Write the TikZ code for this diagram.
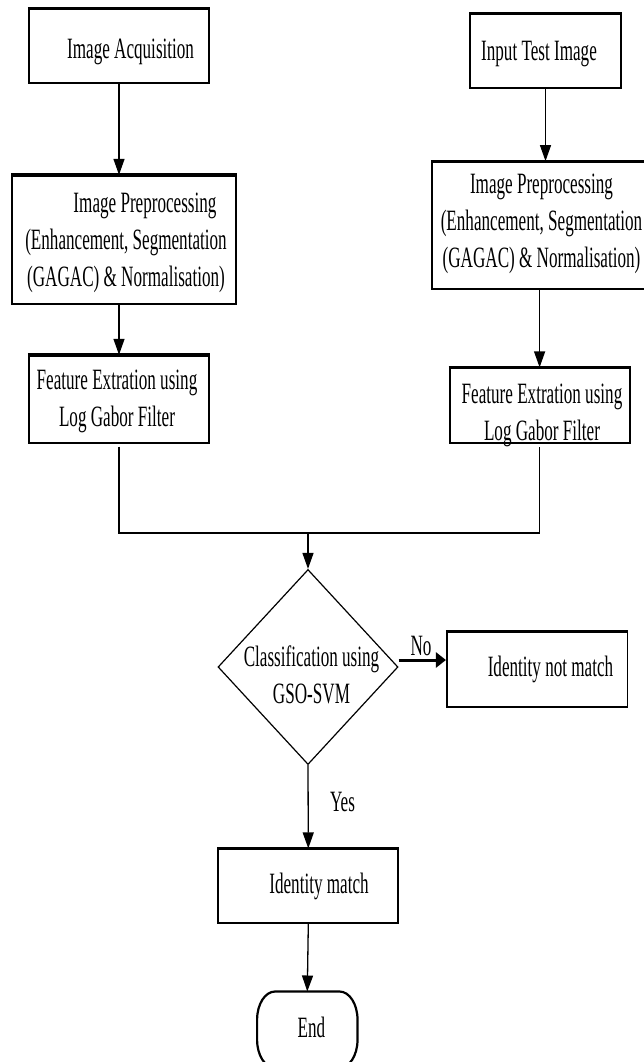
\documentclass[tikz,border=0pt]{standalone}
\usepackage{fontspec}
\setmainfont{Liberation Serif}[FakeStretch=0.58]
\usetikzlibrary{shapes.geometric,arrows.meta}
\begin{document}
\begin{tikzpicture}[x=1pt,y=-1pt,
  box/.style={draw, line width=1.8pt, inner sep=0pt,
    append after command={(\tikzlastnode.north west) edge[line width=3pt] (\tikzlastnode.north east)}},
  txt/.style={font=\fontsize{29.5}{37}\selectfont, inner sep=0pt, align=center, anchor=base},
  arr/.style={line width=1.3pt, -{Triangle[length=16pt,width=11pt]}},
  conn/.style={line width=1.3pt},
  noarr/.style={line width=3pt, -{Triangle[length=10pt,width=15pt]}},
  term/.style={line width=2.2pt}]
\useasboundingbox (0,0) rectangle (644,1062);
\clip (0,0) rectangle (644,1062);
% boxes
\node[box, minimum width=180.7pt, minimum height=74pt] (IA) at (119,46.3) {};
\node[box, minimum width=151pt, minimum height=74pt] (ITI) at (545.5,51) {};
\node[box, minimum width=224pt, minimum height=128.3pt] (PPl) at (124,239.9) {};
\node[box, minimum width=224pt, minimum height=127pt] (PPr) at (544,225.5) {};
\node[box, minimum width=180.7pt, minimum height=87pt] (FEl) at (119,399.2) {};
\node[box, minimum width=180pt, minimum height=74.4pt] (FEr) at (539.6,405.5) {};
\node[diamond, draw, line width=1.2pt, minimum width=180pt, minimum height=195pt, inner sep=0pt] (D) at (308,667) {};
\node[box, minimum width=180.7pt, minimum height=74.4pt] (NM) at (537.2,669.5) {};
\node[box, minimum width=180pt, minimum height=74pt] (M) at (308.3,886.3) {};
\node[minimum width=100pt, minimum height=76pt, inner sep=0pt] (E) at (307.3,1029.7) {};
\draw[term] ([xshift=18pt]E.north west) -- ([xshift=-18pt]E.north east)
  arc[start angle=90, end angle=0, x radius=18pt, y radius=28pt]
  -- ([yshift=28pt]E.south east)
  arc[start angle=0, end angle=-90, x radius=18pt, y radius=28pt]
  -- ([xshift=18pt]E.south west)
  arc[start angle=-90, end angle=-180, x radius=18pt, y radius=28pt]
  -- ([yshift=-28pt]E.north west)
  arc[start angle=180, end angle=90, x radius=18pt, y radius=28pt] -- cycle;
% texts
\node[txt] (tIA) at (130.6,58.5) {Image Acquisition};
\node[txt] (tITI) at (539,61) {Input Test Image};
\node[txt] (tPPl) at (126,286) {\hspace*{38pt}Image Preprocessing\\(Enhancement, Segmentation\\(GAGAC) \& Normalisation)};
\node[txt] (tPPr) at (541.5,267.3) {Image Preprocessing\\(Enhancement, Segmentation\\(GAGAC) \& Normalisation)};
\node[txt] (tFEl) at (117,426) {Feature Extration using\\Log Gabor Filter};
\node[txt] (tFEr) at (542,440) {Feature Extration using\\Log Gabor Filter};
\node[txt] (tD) at (311.5,703) {Classification using\\GSO-SVM};
\node[txt] (tNo) at (421,655) {No};
\node[txt] (tNM) at (550.5,676) {Identity not match};
\node[txt] (tYes) at (342.5,811.7) {Yes};
\node[txt] (tM) at (319,893) {Identity match};
\node[txt] (tE) at (311.5,1037) {End};
% connectors
\coordinate (J) at (308,533);
\draw[arr] (IA.south) -- (IA.south |- PPl.north);
\draw[arr] (ITI.south) -- (ITI.south |- PPr.north);
\draw[arr] (FEl.north |- PPl.south) -- (FEl.north);
\draw[arr] (FEr.north |- PPr.south) -- (FEr.north);
\draw[conn] ([yshift=-3pt]FEl.south) -- (FEl.south |- J) -- (FEr.south |- J) -- ([yshift=-3pt]FEr.south);
\draw[arr] (J) -- (D.north);
\draw[noarr] ([yshift=7pt]D.east) -- ([yshift=7pt]D.east -| NM.west);
\draw[arr] (D.south) -- (M.north);
\draw[arr] (M.south) -- (E.north);
\end{tikzpicture}
\end{document}
